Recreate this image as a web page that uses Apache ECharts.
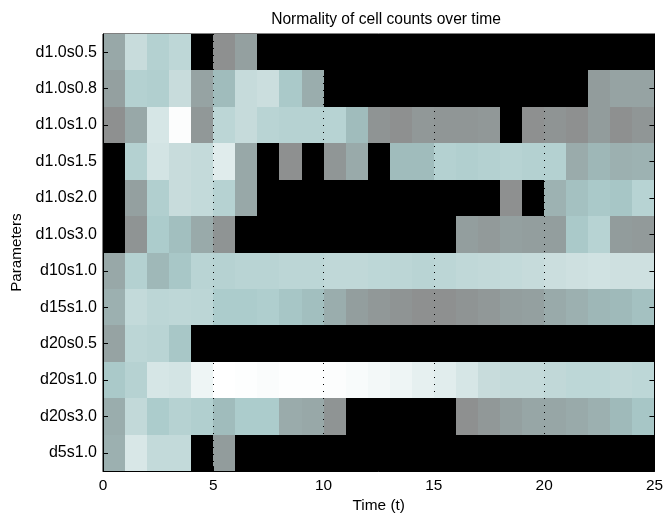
<!DOCTYPE html>
<html>
<head>
<meta charset="utf-8">
<script src="https://cdn.jsdelivr.net/npm/echarts@6/dist/echarts.min.js"></script>
<style>html,body{margin:0;padding:0;background:#fff}#c{width:666px;height:518px}</style>
</head>
<body>
<div id="c"></div>
<script>
const categories = ['d1.0s0.5','d1.0s0.8','d1.0s1.0','d1.0s1.5','d1.0s2.0','d1.0s3.0','d10s1.0','d15s1.0','d20s0.5','d20s1.0','d20s3.0','d5s1.0'];
const xTicks = [0, 5, 10, 15, 20, 25];
const N = null;
const r_d10s05 = [0.15,0.6,0.45,0.52,N,0.02,0.1,N,N,N,N,N,N,N,N,N,N,N,N,N,N,N,N,N,N];
const r_d10s08 = [0.1,0.45,0.43,0.6,0.12,0.3,0.58,0.62,0.38,0.18,N,N,N,N,N,N,N,N,N,N,N,N,0.08,0.12,0.12];
const r_d10s10 = [0.02,0.15,0.7,0.98,0.06,0.5,0.58,0.48,0.46,0.46,0.47,0.3,0.04,0.02,0.06,0.05,0.05,0.06,N,0.02,0.04,0.02,0.08,0.02,0.05];
const r_d10s15 = [N,0.45,0.68,0.6,0.57,0.8,0.15,N,0.02,N,0.05,0.16,N,0.3,0.3,0.45,0.43,0.45,0.47,0.45,0.45,0.17,0.26,0.2,0.22];
const r_d10s20 = [N,0.1,0.43,0.6,0.56,0.46,0.15,N,N,N,N,N,N,N,N,N,N,N,0.02,N,0.22,0.33,0.38,0.36,0.47];
const r_d10s30 = [N,0.04,0.4,0.32,0.16,0.04,N,N,N,N,N,N,N,N,N,N,0.09,0.07,0.1,0.09,0.09,0.38,0.47,0.08,0.07];
const r_d10s1 = [0.15,0.45,0.27,0.37,0.48,0.46,0.48,0.48,0.5,0.5,0.53,0.53,0.51,0.5,0.48,0.5,0.53,0.55,0.56,0.58,0.62,0.64,0.66,0.64,0.64];
const r_d15s1 = [0.2,0.56,0.5,0.52,0.5,0.4,0.4,0.42,0.36,0.32,0.18,0.09,0.06,0.04,0.02,0.02,0.04,0.06,0.09,0.1,0.16,0.2,0.26,0.28,0.33];
const r_d20s05 = [0.12,0.5,0.48,0.37,N,N,N,N,N,N,N,N,N,N,N,N,N,N,N,N,N,N,N,N,N];
const r_d20s1 = [0.38,0.46,0.7,0.68,0.9,1.0,0.99,0.97,0.99,0.99,0.98,0.96,0.93,0.9,0.84,0.81,0.7,0.6,0.57,0.57,0.54,0.51,0.51,0.53,0.51];
const r_d20s3 = [0.18,0.55,0.4,0.46,0.43,0.3,0.4,0.4,0.17,0.15,0.04,N,N,N,N,N,0.02,0.06,0.1,0.14,0.14,0.16,0.2,0.28,0.36];
const r_d5s1 = [0.2,0.72,0.56,0.56,N,0.08,N,N,N,N,N,N,N,N,N,N,N,N,N,N,N,N,N,N,N];
const rows = [r_d10s05,r_d10s08,r_d10s10,r_d10s15,r_d10s20,r_d10s30,r_d10s1,r_d15s1,r_d20s05,r_d20s1,r_d20s3,r_d5s1];

const data = [];
rows.forEach((row, i) => row.forEach((v, t) => { if (v !== null) data.push([t, i, v]); }));

const font = 'Liberation Sans, Arial, Helvetica, sans-serif';
const chart = echarts.init(document.getElementById('c'), null, {renderer: 'canvas'});
chart.setOption({
  animation: false,
  backgroundColor: '#fff',
  title: {
    text: 'Normality of cell counts over time',
    left: 381, top: 7, textAlign: 'center',
    textStyle: {fontFamily: font, fontSize: 15.6, fontWeight: 'normal', color: '#000'}
  },
  grid: {left: 103, right: 7, top: 34, bottom: 46, show: true, backgroundColor: '#000', borderColor: '#000', borderWidth: 1},
  visualMap: {
    show: false, min: 0, max: 1, dimension: 2, seriesIndex: 0,
    inRange: {color: ['#8c8c8c','#94a0a0','#9cb0b0','#a0bcbc','#accccc','#bcd6d6','#c8dcdc','#d6e6e6','#e0ecec','#eef5f5','#ffffff']}
  },
  xAxis: [{
    type: 'value', min: 0, max: 25, interval: 5, z: 5,
    name: 'Time (t)', nameLocation: 'middle', nameGap: 19,
    nameTextStyle: {fontFamily: font, fontSize: 15.4, color: '#000'},
    axisLine: {show: true, lineStyle: {color: '#000', width: 1}},
    axisTick: {show: true, inside: true, length: 5, lineStyle: {color: '#000'}},
    axisLabel: {fontFamily: font, fontSize: 15.4, color: '#000', margin: 7, formatter: v => xTicks.includes(v) ? String(v) : ''},
    splitLine: {show: true, lineStyle: {color: '#000', type: [1, 6], width: 1}}
  }],
  yAxis: [{
    type: 'category', data: categories, inverse: true, z: 5,
    name: 'Parameters', nameLocation: 'middle', nameGap: 74,
    nameTextStyle: {fontFamily: font, fontSize: 15.2, color: '#000'},
    axisLine: {show: true, lineStyle: {color: '#000'}},
    axisTick: {show: true, inside: true, alignWithLabel: true, length: 5, lineStyle: {color: '#000'}},
    axisLabel: {fontFamily: font, fontSize: 16, color: '#000', margin: 6},
    splitLine: {show: false}
  }, {
    type: 'category', data: categories, inverse: true, position: 'right', z: 5,
    axisLine: {show: true, lineStyle: {color: '#000'}},
    axisTick: {show: true, inside: true, alignWithLabel: true, length: 5, lineStyle: {color: '#000'}},
    axisLabel: {show: false},
    splitLine: {show: false}
  }],
  series: [{
    type: 'custom',
    xAxisIndex: 0, yAxisIndex: 0,
    data: data,
    encode: {x: 0, y: 1},
    renderItem: function (params, api) {
      const p0 = api.coord([api.value(0), api.value(1)]);
      const p1 = api.coord([api.value(0) + 1, api.value(1)]);
      const h = api.size([0, 1])[1];
      const x0 = Math.round(p0[0]), x1 = Math.round(p1[0]);
      const y0 = Math.round(p0[1] - h / 2), y1 = Math.round(p0[1] + h / 2);
      return {
        type: 'rect',
        shape: {x: x0, y: y0, width: x1 - x0, height: y1 - y0},
        style: {fill: api.visual('color'), stroke: null, lineWidth: 0}
      };
    }
  }]
});
</script>
</body>
</html>
